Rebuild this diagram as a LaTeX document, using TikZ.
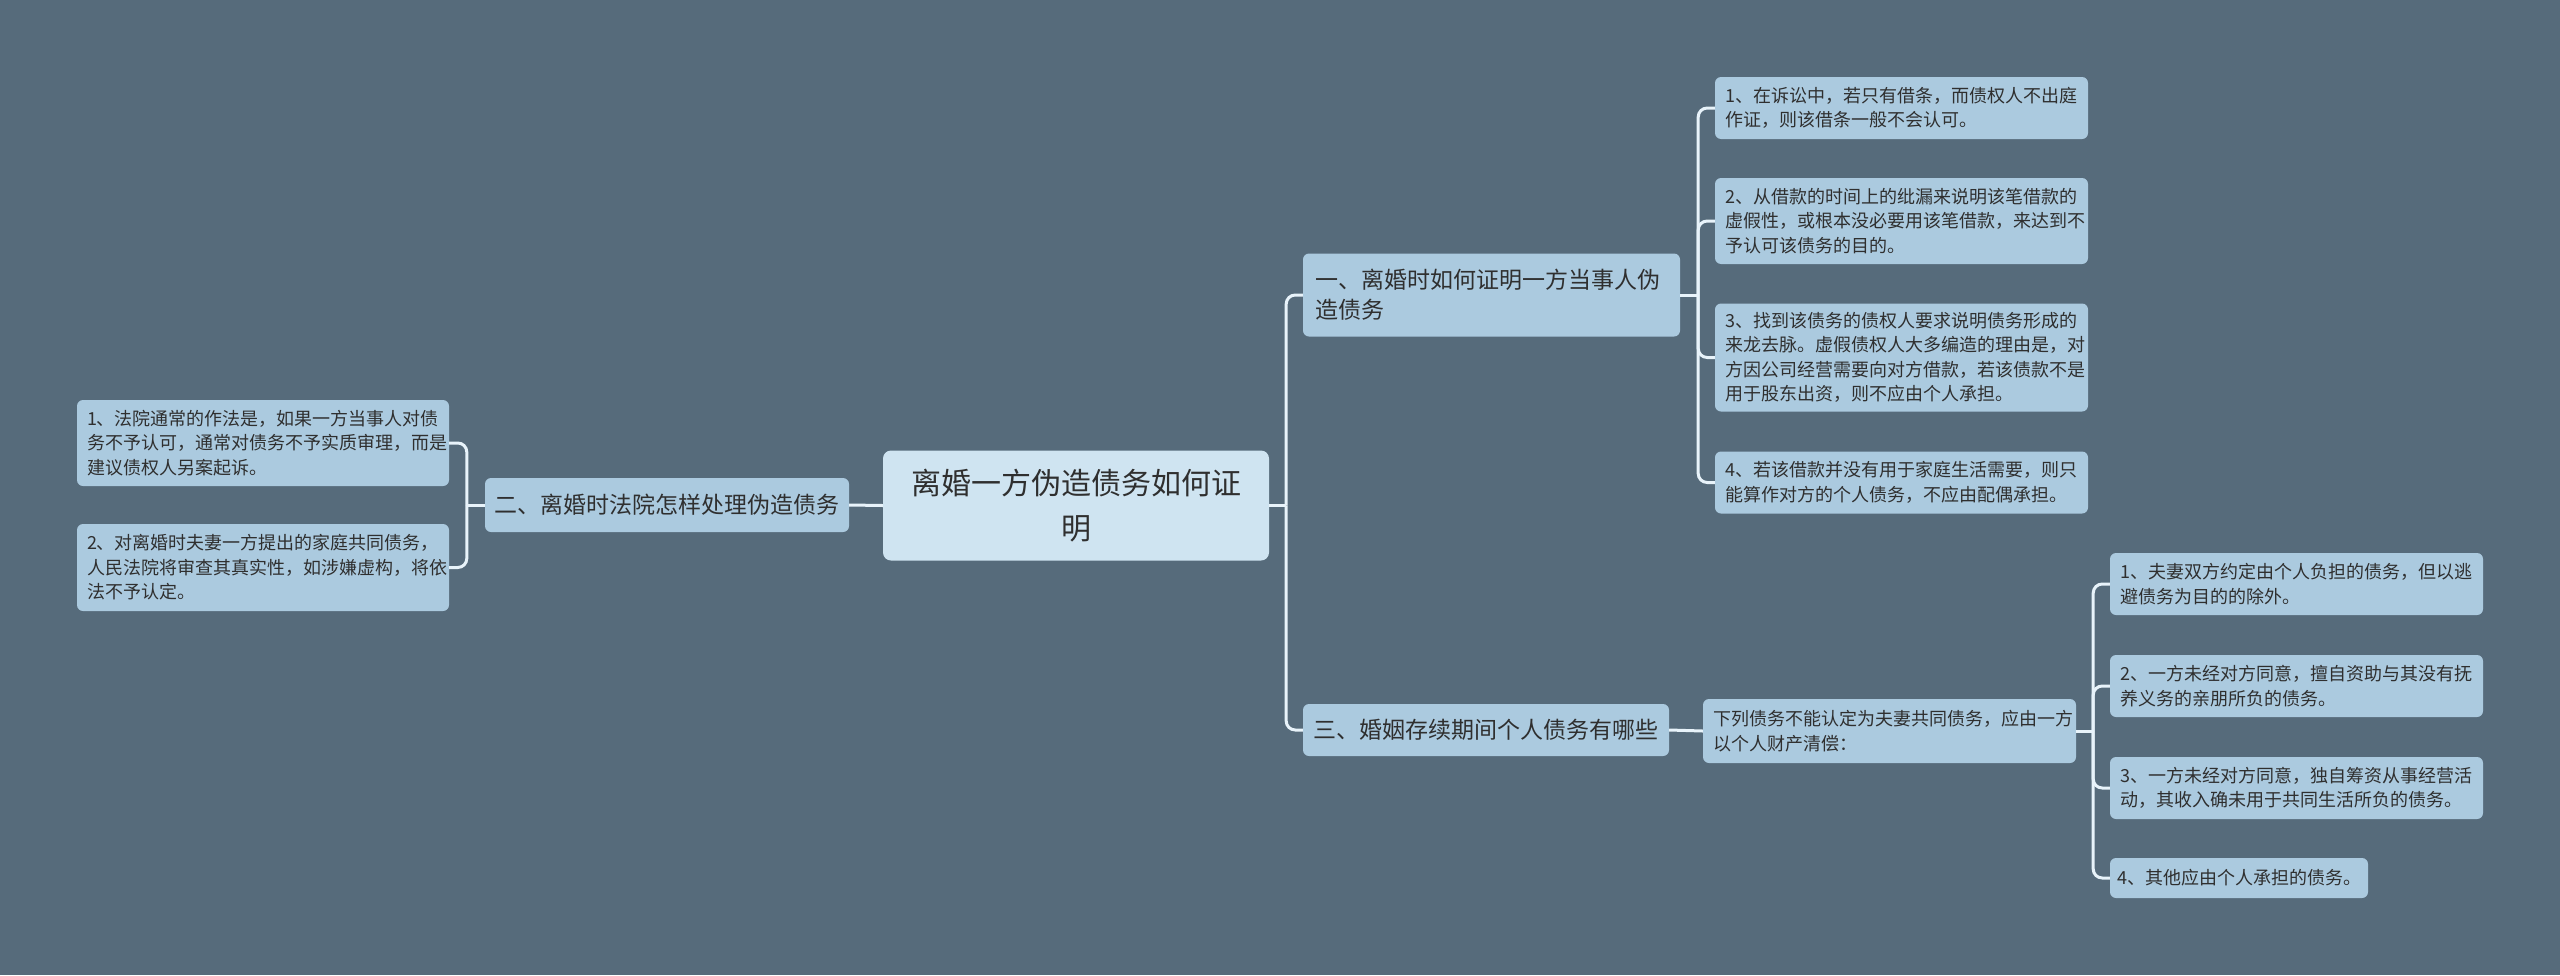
\documentclass[tikz,border=0pt]{standalone}
\usepackage{fontspec}
\newfontfamily\cjk{Noto Sans CJK SC}
\definecolor{bgc}{HTML}{566B7B}
\definecolor{leaffill}{HTML}{ABCADF}
\definecolor{rootfill}{HTML}{CFE4F1}
\definecolor{linec}{HTML}{E8F3FA}
\definecolor{txt}{HTML}{2F2F2F}
\begin{document}
\begin{tikzpicture}[x=1pt,y=-1pt,
  base/.style={draw=none, fill=leaffill, text=txt, rounded corners=6pt, inner xsep=0pt, inner ysep=0pt, anchor=center},
  leaf/.style={base, font=\cjk\fontsize{18}{24.5}\selectfont, align=left},
  branch/.style={base, font=\cjk\fontsize{23}{30}\selectfont, align=left},
  rootbox/.style={base, fill=rootfill, rounded corners=8pt, font=\cjk\fontsize{30}{45}\selectfont, align=center},
  conn/.style={draw=linec, line width=3pt},
  connr/.style={conn, rounded corners=9pt}
]
\fill[bgc] (0,0) rectangle (2560,975);
\useasboundingbox (0,0) rectangle (2560,975);

% root
\node[rootbox, minimum width=386pt, minimum height=110pt] (root) at (1076,505.5) {离婚一方伪造债务如何证\\明};

% branches
\node[branch, minimum width=377pt, minimum height=83pt, text width=353pt] (b1) at (1491.5,295) {一、离婚时如何证明一方当事人伪\\造债务};
\node[branch, minimum width=364pt, minimum height=54pt] (b2) at (667,505) {二、离婚时法院怎样处理伪造债务};
\node[branch, minimum width=366pt, minimum height=52pt] (b3) at (1486,730) {三、婚姻存续期间个人债务有哪些};

% sub node of b3
\node[leaf, minimum width=373pt, minimum height=64pt, text width=353pt] (sub) at (1889.5,731) {下列债务不能认定为夫妻共同债务，应由一方\\以个人财产清偿：};

% left leaves
\node[leaf, minimum width=372pt, minimum height=86pt, text width=352pt] (l1) at (263,443) {1、法院通常的作法是，如果一方当事人对债\\务不予认可，通常对债务不予实质审理，而是\\建议债权人另案起诉。};
\node[leaf, minimum width=372pt, minimum height=87pt, text width=352pt] (l2) at (263,567.5) {2、对离婚时夫妻一方提出的家庭共同债务，\\人民法院将审查其真实性，如涉嫌虚构，将依\\法不予认定。};

% right top leaves
\node[leaf, minimum width=373pt, minimum height=62pt, text width=353pt] (r1) at (1901.5,108) {1、在诉讼中，若只有借条，而债权人不出庭\\作证，则该借条一般不会认可。};
\node[leaf, minimum width=373pt, minimum height=86pt, text width=353pt] (r2) at (1901.5,221) {2、从借款的时间上的纰漏来说明该笔借款的\\虚假性，或根本没必要用该笔借款，来达到不\\予认可该债务的目的。};
\node[leaf, minimum width=373pt, minimum height=108pt, text width=353pt] (r3) at (1901.5,357.5) {3、找到该债务的债权人要求说明债务形成的\\来龙去脉。虚假债权人大多编造的理由是，对\\方因公司经营需要向对方借款，若该债款不是\\用于股东出资，则不应由个人承担。};
\node[leaf, minimum width=373pt, minimum height=62pt, text width=353pt] (r4) at (1901.5,482.5) {4、若该借款并没有用于家庭生活需要，则只\\能算作对方的个人债务，不应由配偶承担。};

% bottom right leaves
\node[leaf, minimum width=373pt, minimum height=62pt, text width=353pt] (q1) at (2296.5,584) {1、夫妻双方约定由个人负担的债务，但以逃\\避债务为目的的除外。};
\node[leaf, minimum width=373pt, minimum height=62pt, text width=353pt] (q2) at (2296.5,686) {2、一方未经对方同意，擅自资助与其没有抚\\养义务的亲朋所负的债务。};
\node[leaf, minimum width=373pt, minimum height=62pt, text width=353pt] (q3) at (2296.5,788) {3、一方未经对方同意，独自筹资从事经营活\\动，其收入确未用于共同生活所负的债务。};
\node[leaf, minimum width=258pt, minimum height=40pt] (q4) at (2239,878) {4、其他应由个人承担的债务。};

% junction coordinates
\path (root.east) ++(17,0) coordinate (jr);
\path (root.west) ++(-17,0) coordinate (jl);
\path (b1.east) ++(18,0) coordinate (j1);
\path (b2.west) ++(-18,0) coordinate (j2);
\path (sub.east) ++(17,0) coordinate (j3);

% connectors
\draw[conn] (root.east) -- (jr);
\draw[connr] (jr) |- (b1.west);
\draw[connr] (jr) |- (b3.west);
\draw[conn] (root.west) -- (b2.east);

\draw[conn] (b2.west) -- (j2);
\draw[connr] (j2) |- (l1.east);
\draw[connr] (j2) |- (l2.east);

\draw[conn] (b1.east) -- (j1);
\draw[connr] (j1) |- (r1.west);
\draw[connr] (j1) |- (r2.west);
\draw[connr] (j1) |- (r3.west);
\draw[connr] (j1) |- (r4.west);

\draw[conn] (b3.east) -- (sub.west);
\draw[conn] (sub.east) -- (j3);
\draw[connr] (j3) |- (q1.west);
\draw[connr] (j3) |- (q2.west);
\draw[connr] (j3) |- (q3.west);
\draw[connr] (j3) |- (q4.west);
\end{tikzpicture}
\end{document}
